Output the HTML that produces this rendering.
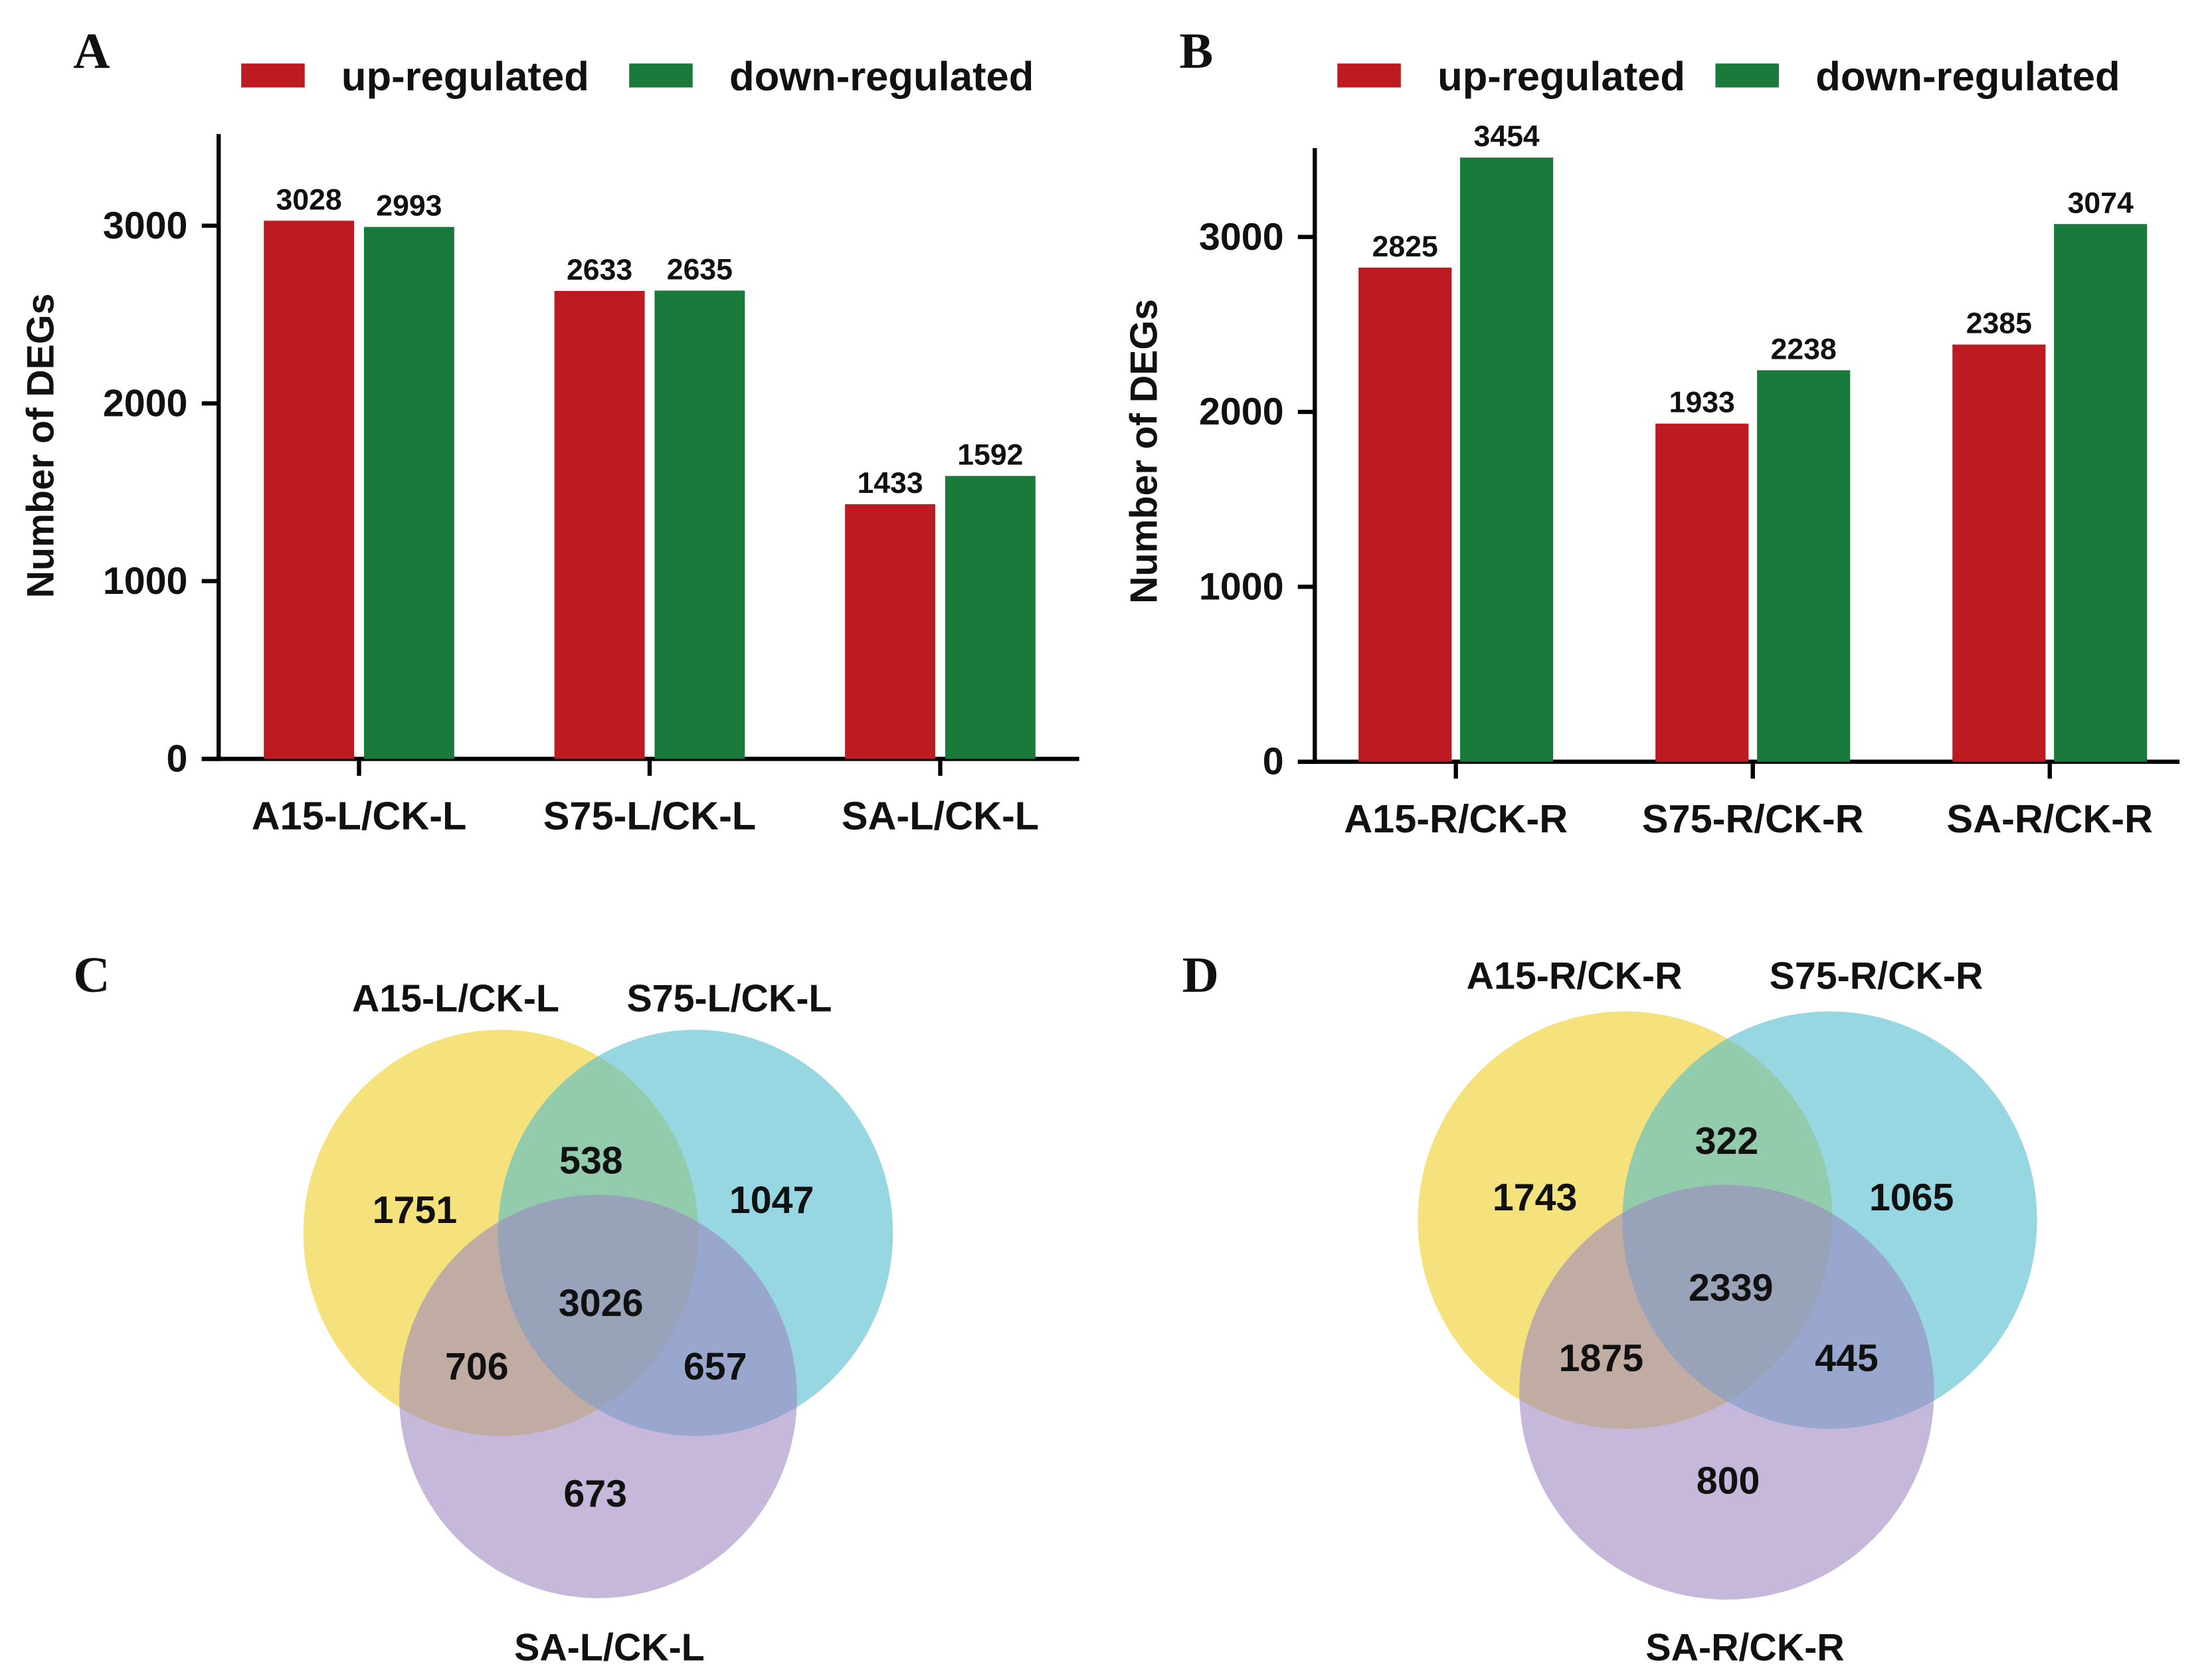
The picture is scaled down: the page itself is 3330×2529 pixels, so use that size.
<!DOCTYPE html>
<html><head><meta charset="utf-8"><style>
html,body{margin:0;padding:0;background:#fff}
svg{display:block}
text{font-family:"Liberation Sans",Arial,sans-serif;font-weight:bold;fill:#111}
.pl{font-family:"Liberation Serif",serif;font-size:36px}
</style></head><body>
<svg id="fig" width="3330" height="2529" viewBox="0 0 1568 1191" preserveAspectRatio="none" xmlns="http://www.w3.org/2000/svg">
<text class="pl" x="52" y="48">A</text>
<text class="pl" x="836" y="48">B</text>
<text class="pl" x="52" y="703">C</text>
<text class="pl" x="838" y="703">D</text>
<g id="chartA"></g>
<g id="chartB"></g>
<g id="vennC"></g>
<g id="vennD"></g>
</svg>
<script>
const categoriesA = ["A15-L/CK-L","S75-L/CK-L","SA-L/CK-L"];
const upA = [3028,2633,1433];
const downA = [2993,2635,1592];
const categoriesB = ["A15-R/CK-R","S75-R/CK-R","SA-R/CK-R"];
const upB = [2825,1933,2385];
const downB = [3454,2238,3074];
const yTicks = [0,1000,2000,3000];
const seriesNames = ["up-regulated","down-regulated"];

const NS="http://www.w3.org/2000/svg";
function mk(parent,tag,attrs,txt){const e=document.createElementNS(NS,tag);for(const k in attrs)e.setAttribute(k,attrs[k]);if(txt!==undefined)e.textContent=txt;parent.appendChild(e);return e;}

function barChart(g,cfg,cats,up,down){
  const y=v=>cfg.y0-v*cfg.ppu;
  const ax=mk(g,'line',{x1:cfg.ax,x2:cfg.ax,y1:cfg.ytop,y2:cfg.y0+1.5,stroke:'#000','stroke-width':3});
  
  const bx=mk(g,'line',{x1:cfg.ax-12,x2:cfg.xend,y1:cfg.y0,y2:cfg.y0,stroke:'#000','stroke-width':3});
  
  yTicks.forEach(t=>{
    const l=mk(g,'line',{x1:cfg.ax-12,x2:cfg.ax,y1:y(t),y2:y(t),stroke:'#000','stroke-width':3});
    
    const tx=mk(g,'text',{x:cfg.ax-22,y:y(t)+9,'text-anchor':'end','font-size':27},String(t));
    
  });
  const yl=mk(g,'text',{x:0,y:0,'text-anchor':'middle','font-size':27,transform:`translate(${cfg.ylx},${cfg.yly}) rotate(-90)`},'Number of DEGs');
  
  cats.forEach((c,i)=>{
    const cx=cfg.c0+i*cfg.step;
    const t=mk(g,'line',{x1:cx,x2:cx,y1:cfg.y0,y2:cfg.y0+12,stroke:'#000','stroke-width':3});
    
    const lb=mk(g,'text',{x:cx,y:cfg.y0+50,'text-anchor':'middle','font-size':28},c);
    
    [[up[i],'#bd1a21',-1],[down[i],'#1a7a3b',1]].forEach(([v,col,sd])=>{
      const x0= sd<0 ? cx-cfg.gap/2-cfg.bw : cx+cfg.gap/2;
      const r=mk(g,'rect',{x:x0,y:y(v),width:cfg.bw,height:v*cfg.ppu,fill:col});
      
      const vt=mk(g,'text',{x:x0+cfg.bw/2,y:y(v)-8,'text-anchor':'middle','font-size':21},String(v));
      
    });
  });
  [[cfg.lg[0],'#bd1a21',seriesNames[0]],[cfg.lg[1],'#1a7a3b',seriesNames[1]]].forEach(([lx,col,nm])=>{
    const r=mk(g,'rect',{x:lx,y:45,width:45,height:17,fill:col});
    
    const t=mk(g,'text',{x:lx+71,y:64,'font-size':29},nm);
    
  });
}
barChart(document.getElementById('chartA'),{ax:155,ytop:95,y0:538,ppu:0.126,xend:765,c0:254.5,step:206,bw:64,gap:7,ylx:38,yly:316,lg:[171,446]},categoriesA,upA,downA);
barChart(document.getElementById('chartB'),{ax:932,ytop:105,y0:540,ppu:0.124,xend:1545,c0:1032,step:210.5,bw:66,gap:6,ylx:820,yly:320,lg:[948,1216]},categoriesB,upB,downB);

function venn(g,circ,labels,nums){
  const cols=['#f0d238','#52bccd','#9b84c1'];
  const ops=[0.65,0.6,0.58];
  const names=['circle-a15','circle-s75','circle-sa'];
  circ.forEach((c,i)=>{
    const e=mk(g,'ellipse',{cx:c[0],cy:c[1],rx:c[2],ry:c[3],fill:cols[i],'fill-opacity':ops[i]});
    
  });
  labels.forEach(l=>{
    const t=mk(g,'text',{x:l[0],y:l[1],'text-anchor':'middle','font-size':27},l[2]);
    
  });
  nums.forEach(n=>{
    const t=mk(g,'text',{x:n[0],y:n[1]+10,'text-anchor':'middle','font-size':27},n[2]);
    
  });
}
venn(document.getElementById('vennC'),
 [[355,874,140,144],[493,874,140,144],[424,990,141,143]],
 [[323,717,'A15-L/CK-L'],[517,717,'S75-L/CK-L'],[432,1177,'SA-L/CK-L']],
 [[294,857,'1751'],[419,822,'538'],[547,850,'1047'],[426,923,'3026'],[338,968,'706'],[507,968,'657'],[422,1058,'673']]);
venn(document.getElementById('vennD'),
 [[1152,865,147,148],[1297,865,147,148],[1224,987,147,147]],
 [[1116,701,'A15-R/CK-R'],[1330,701,'S75-R/CK-R'],[1237,1177,'SA-R/CK-R']],
 [[1088,848,'1743'],[1224,808,'322'],[1355,848,'1065'],[1227,912,'2339'],[1135,962,'1875'],[1309,962,'445'],[1225,1049,'800']]);
</script>
</body></html>
